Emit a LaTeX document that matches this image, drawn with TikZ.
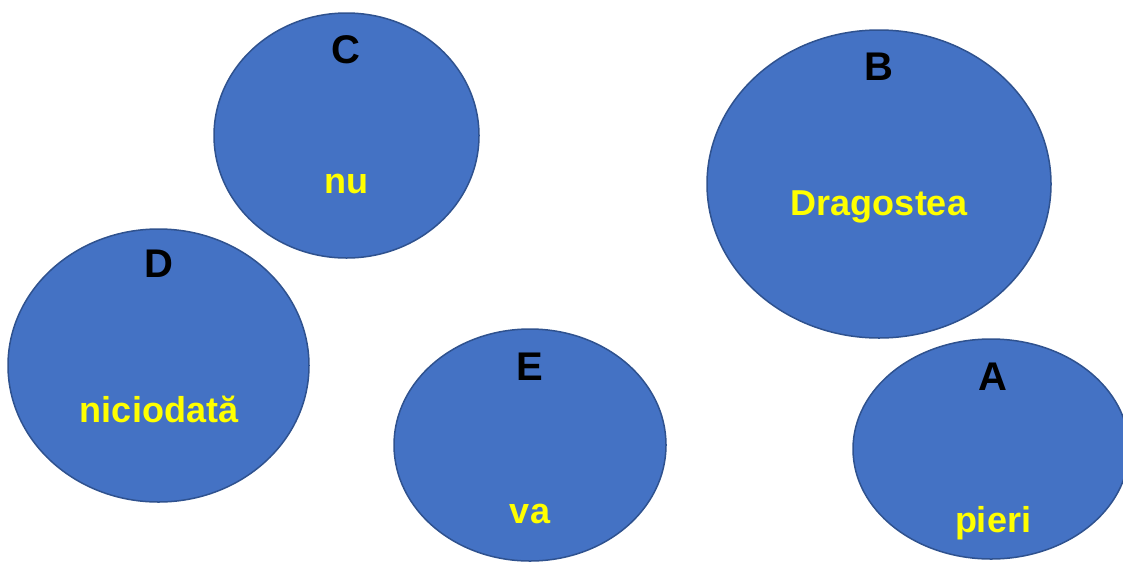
\documentclass[tikz,border=0pt]{standalone}
\usepackage{fontspec}
\setmainfont{Liberation Sans}
\usetikzlibrary{shapes.geometric, positioning}
\definecolor{ovalblue}{RGB}{68, 114, 196}
\definecolor{ovaledge}{RGB}{47, 82, 143}
\definecolor{wordyellow}{RGB}{255, 255, 0}

\begin{document}
\begin{tikzpicture}[x=1pt, y=-1pt,
    bubble/.style={ellipse, draw=ovaledge, fill=ovalblue, line width=1.5pt, inner sep=0pt},
    letter/.style={anchor=base, inner sep=0pt, font=\fontsize{40}{40}\selectfont\bfseries},
    word/.style={anchor=base, inner sep=0pt, text=wordyellow, font=\fontsize{36}{36}\selectfont\bfseries}]
                \useasboundingbox (0,0) rectangle (1123,563);
                % ovals
                \node[bubble, minimum width=265pt, minimum height=245pt] (ovalC) at (346.5, 135.5) {};
                \node[bubble, minimum width=344pt, minimum height=308pt] (ovalB) at (879, 184) {};
                \node[bubble, minimum width=301pt, minimum height=273pt] (ovalD) at (158.5, 365.5) {};
                \node[bubble, minimum width=272pt, minimum height=232pt] (ovalE) at (530, 445) {};
                \node[bubble, minimum width=276pt, minimum height=220pt] (ovalA) at (991, 449) {};
                % letters
                \node[letter] (labC) at (346, 63) {C};
                \node[letter] (labB) at (879, 80) {B};
                \node[letter] (labD) at (159, 277) {D};
                \node[letter] (labE) at (530, 380) {E};
                \node[letter] (labA) at (993, 390) {A};
                % words
                \node[word] (wordC) at (346, 193) {nu};
                \node[word] (wordB) at (879, 215) {Dragostea};
                \node[word] (wordD) at (159, 422) {niciodată};
                \node[word] (wordE) at (530, 523) {va};
                \node[word] (wordA) at (993, 532) {pieri};
            \end{tikzpicture}
\end{document}
